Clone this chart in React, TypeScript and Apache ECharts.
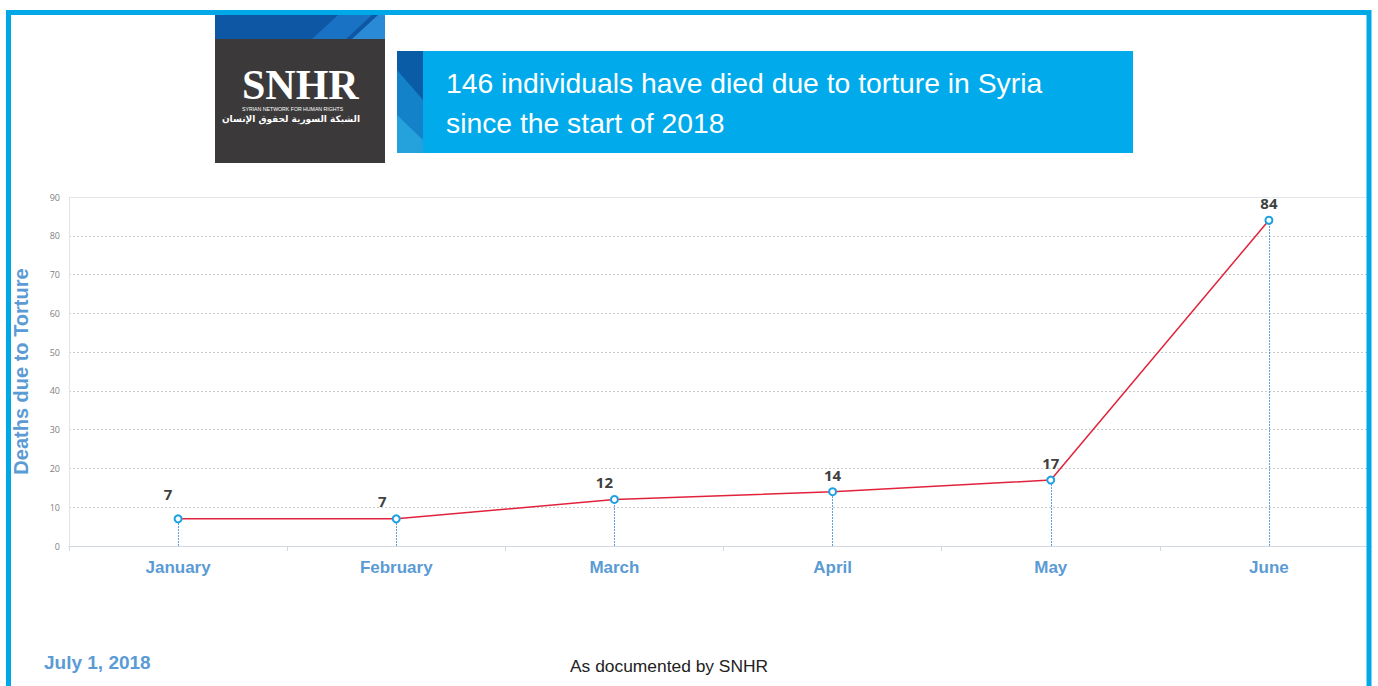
import React, { useEffect, useRef } from "react";
import * as echarts from "echarts";

const months = ["January", "February", "March", "April", "May", "June"];
const deaths = [7, 7, 12, 14, 17, 84];
const yTicks = { min: 0, max: 90, interval: 10 };
const titleLines = ["146 individuals have died due to torture in Syria", "since the start of 2018"];
const yAxisTitle = "Deaths due to Torture";
const dateText = "July 1, 2018";
const sourceText = "As documented by SNHR";

export default function App() {
  const ref = useRef<HTMLDivElement>(null);
  useEffect(() => {
    document.body.style.margin = "0";
    const chart = echarts.init(ref.current!, null, { renderer: "svg" });
    const labelOffsets: Record<number, number[]> = { 0: [-10, -8], 1: [-14, -1], 2: [-10, 0] };
    const option: any = {
      animation: false,
      backgroundColor: "#ffffff",
      grid: { left: 69, right: 0, top: 197, bottom: 140, containLabel: false, outerBoundsMode: "none" },
      xAxis: [
        {
          type: "category",
          data: months,
          boundaryGap: true,
          axisLine: { show: true, lineStyle: { color: "#d3d9e0", width: 1 } },
          axisTick: { show: true, length: 5, lineStyle: { color: "#d3d9e0" } },
          axisLabel: {
            color: "#5b9bd5",
            fontWeight: "bold",
            fontSize: 17,
            fontFamily: "'Liberation Sans', Arial, sans-serif",
            margin: 13,
          },
        },
        {
          type: "category",
          data: months,
          position: "top",
          axisLine: { show: true, lineStyle: { color: "#e3e6ea", width: 1 } },
          axisTick: { show: false },
          axisLabel: { show: false },
        },
      ],
      yAxis: {
        type: "value",
        min: yTicks.min,
        max: yTicks.max,
        interval: yTicks.interval,
        name: yAxisTitle,
        nameLocation: "middle",
        nameGap: 38,
        nameTextStyle: {
          color: "#5b9bd5",
          fontWeight: "bold",
          fontSize: 20,
          fontFamily: "'Liberation Sans', Arial, sans-serif",
        },
        axisLine: { show: true, lineStyle: { color: "#e0e3e8" } },
        axisTick: { show: false },
        axisLabel: { color: "#808080", fontSize: 9, margin: 9, fontFamily: "Open Sans" },
        splitLine: { show: true, lineStyle: { type: [2, 2], color: "#c9ccd0", width: 1 } },
      },
      series: [
        {
          type: "line",
          data: deaths.map((v, i) => ({
            value: v,
            label: labelOffsets[i] ? { offset: labelOffsets[i] } : undefined,
          })),
          lineStyle: { color: "#e2223c", width: 1.5 },
          symbol: "emptyCircle",
          symbolSize: 7,
          itemStyle: { color: "#1ba1e2", borderWidth: 2.2, borderColor: "#1ba1e2" },
          label: {
            show: true,
            position: "top",
            distance: 5,
            color: "#404040",
            fontWeight: "bold",
            fontSize: 15,
            fontFamily: "Open Sans",
          },
          z: 3,
          markLine: {
            silent: true,
            symbol: "none",
            label: { show: false },
            lineStyle: { type: [2, 1], color: "#4f95dc", width: 1, opacity: 0.9 },
            emphasis: { disabled: true },
            data: deaths.map((v, i) => [
              { coord: [months[i], 0] },
              { coord: [months[i], v] },
            ]),
            z: 1,
          },
        },
      ],
      graphic: [
        // logo
        { type: "rect", left: 215, top: 15, shape: { width: 170, height: 148 }, style: { fill: "#3b393a" } },
        { type: "rect", left: 215, top: 15, shape: { width: 170, height: 24 }, style: { fill: "#0d57a4" } },
        {
          type: "polygon",
          shape: { points: [[312, 39], [338, 15], [372, 15], [346, 39]] },
          style: { fill: "#1a72c4" },
        },
        {
          type: "polygon",
          shape: { points: [[352, 39], [378, 15], [385, 15], [385, 39]] },
          style: { fill: "#2a8ad6" },
        },
        {
          type: "text",
          left: 242,
          top: 64,
          style: { text: "SNHR", fill: "#ffffff", font: "bold 42px 'Liberation Serif', 'DejaVu Serif', serif" },
        },
        {
          type: "text",
          left: 242,
          top: 106,
          style: { text: "SYRIAN NETWORK FOR HUMAN RIGHTS", fill: "#ffffff", font: "5.2px 'Liberation Sans', Arial" },
        },
        {
          type: "text",
          x: 360,
          y: 114,
          style: {
            text: "الشبكة السورية لحقوق الإنسان",
            fill: "#ffffff",
            align: "right",
            verticalAlign: "top",
            font: "bold 9px 'DejaVu Sans', sans-serif",
          },
        },
        // title box
        { type: "rect", left: 397, top: 51, shape: { width: 736, height: 102 }, style: { fill: "#01abeb" } },
        { type: "rect", left: 397, top: 51, shape: { width: 26, height: 102 }, style: { fill: "#0a5ca6" } },
        {
          type: "polygon",
          shape: { points: [[397, 70], [423, 100], [423, 153], [397, 153]] },
          style: { fill: "#1482c8" },
        },
        {
          type: "polygon",
          shape: { points: [[397, 115], [423, 140], [423, 153], [397, 153]] },
          style: { fill: "#25a1dc" },
        },
        {
          type: "text",
          left: 446,
          top: 63,
          style: {
            text: titleLines.join("\n"),
            fill: "#ffffff",
            font: "28.3px 'Liberation Sans', Arial, sans-serif",
            lineHeight: 40,
          },
        },
        // footer
        {
          type: "text",
          left: 44,
          top: 653,
          style: { text: dateText, fill: "#5b9bd5", font: "bold 19px 'Liberation Sans', Arial, sans-serif" },
        },
        {
          type: "text",
          left: 570,
          top: 657,
          style: { text: sourceText, fill: "#222222", font: "17.4px 'Liberation Sans', Arial, sans-serif" },
        },
        // frame
        { type: "rect", left: 1372, top: 0, z: 99, shape: { width: 10, height: 686 }, style: { fill: "#ffffff" } },
        {
          type: "rect",
          z: 100,
          shape: { x: 8.5, y: 12.5, width: 1360.5, height: 720 },
          style: { fill: "none", stroke: "#00a8e8", lineWidth: 5 },
        },
      ],
    };
    chart.setOption(option);
    return () => chart.dispose();
  }, []);
  return <div ref={ref} style={{ width: 1378, height: 686 }} />;
}
